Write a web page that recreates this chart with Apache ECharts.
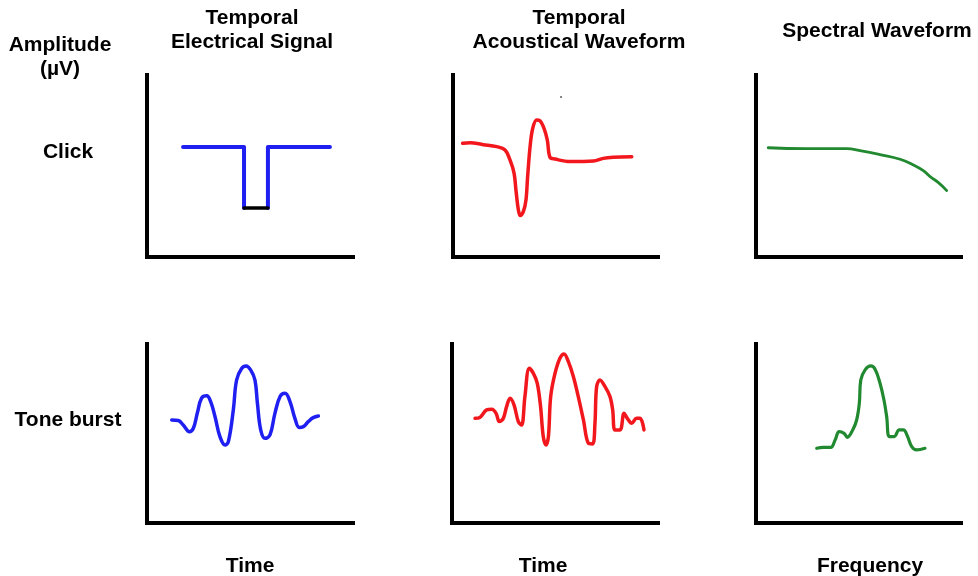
<!DOCTYPE html>
<html>
<head>
<meta charset="utf-8">
<script src="https://cdn.jsdelivr.net/npm/echarts@6/dist/echarts.min.js"></script>
<style>html,body{margin:0;padding:0;background:#fff}#c{width:978px;height:576px}</style>
</head>
<body>
<div id="c"></div>
<script>
// Column titles, row labels, axis labels
const columnTitles = [["Temporal", "Electrical Signal"], ["Temporal", "Acoustical Waveform"], ["Spectral Waveform"]];
const rowLabels = ["Click", "Tone burst"];
const yAxisTitle = ["Amplitude", "(\u00b5V)"];
const xAxisTitles = ["Time", "Time", "Frequency"];

// Click – temporal electrical signal (rectangular pulse)
const clickElecLeft = [[17.5, 61.1], [47.1, 61.1], [47.1, 27.2]];
const clickElecBottom = [[47.1, 27.2], [58.7, 27.2]];
const clickElecRight = [[58.7, 27.2], [58.7, 61.1], [88.8, 61.1]];

// Click – temporal acoustical waveform
const clickAcoustic = [[4.7, 63.2], [8.3, 63.5], [14.8, 62.4], [21.3, 61.3], [25.4, 59.4], [27.8, 53.9], [29.8, 46.5], [30.7, 37.2], [31.9, 26.1], [32.8, 23.0], [34.3, 25.2], [35.6, 31.7], [36.4, 44.6], [37.6, 61.3], [38.9, 71.5], [40.8, 76.1], [42.4, 75.7], [44.4, 71.5], [46.0, 65.0], [47.3, 55.4], [49.8, 54.4], [57.1, 53.0], [68.5, 53.3], [73.3, 54.8], [78.2, 55.4], [87.2, 55.7]];
const strayDot = [[52.7, 88.9]];

// Click – spectral waveform
const clickSpectrum = [[5.9, 60.7], [24.5, 60.2], [43.8, 60.2], [50.2, 59.1], [59.9, 56.9], [69.6, 54.3], [76.0, 51.1], [80.8, 48.0], [84.1, 44.6], [88.1, 41.3], [92.1, 36.9]];

// Tone burst – temporal electrical signal
const toneElec = [[12.0, 57.2], [15.2, 56.9], [17.6, 54.4], [20.6, 50.7], [22.5, 52.6], [24.4, 60.9], [26.5, 69.3], [29.0, 70.6], [30.9, 67.4], [33.0, 59.1], [35.4, 48.0], [37.9, 43.3], [39.5, 45.2], [41.9, 62.8], [43.5, 79.4], [46.0, 85.9], [48.1, 87.2], [50.3, 85.0], [52.4, 79.4], [53.6, 66.5], [55.2, 51.7], [57.3, 47.0], [59.7, 48.9], [62.1, 60.9], [64.6, 70.2], [67.0, 72.0], [69.4, 67.4], [71.8, 58.1], [73.9, 53.1], [75.9, 53.5], [78.3, 56.3], [80.7, 58.5], [83.2, 59.4]];

// Tone burst – temporal acoustical waveform
const toneAcoustic = [[11.2, 58.1], [13.6, 58.7], [16.8, 62.8], [19.3, 63.2], [21.4, 60.9], [23.0, 56.3], [24.9, 58.1], [26.5, 64.6], [28.2, 69.3], [30.1, 65.6], [32.2, 56.3], [33.8, 54.4], [35.4, 70.2], [37.5, 85.9], [39.5, 83.1], [41.4, 77.6], [43.0, 64.6], [44.3, 48.0], [45.6, 43.3], [46.8, 48.0], [47.9, 70.2], [50.0, 83.1], [52.4, 91.5], [54.4, 93.9], [56.5, 89.6], [58.9, 81.3], [61.3, 70.2], [63.8, 57.2], [66.2, 44.3], [68.3, 43.9], [69.4, 55.4], [70.2, 75.7], [71.8, 79.4], [74.3, 75.7], [76.7, 70.2], [78.0, 62.8], [79.1, 51.7], [81.6, 51.7], [83.5, 60.9], [85.1, 58.1], [87.2, 55.4], [89.6, 58.1], [91.3, 58.1], [93.2, 51.7]];

// Tone burst – spectral waveform
const toneSpectrum = [[29.3, 41.5], [32.5, 42.0], [36.1, 42.0], [38.2, 46.1], [40.2, 50.7], [42.5, 49.8], [44.1, 47.6], [46.7, 51.7], [48.6, 57.2], [49.9, 66.5], [50.6, 79.4], [52.7, 85.0], [55.4, 87.2], [57.5, 85.4], [59.9, 77.6], [61.8, 68.3], [63.1, 59.1], [64.4, 48.0], [66.7, 48.0], [69.2, 51.7], [71.2, 51.7], [73.1, 48.3], [75.2, 42.4], [77.6, 40.6], [81.6, 41.5]];

const BLUE = '#1f1ff2', RED = '#f2171c', GREEN = '#218a30';
const FONT = '"Liberation Sans", Arial, sans-serif';

const panels = [
  {left: 147, top: 75, width: 206, height: 182, ymax: 101.1, xmax: 100},
  {left: 453, top: 75, width: 205, height: 182, ymax: 101.1, xmax: 100},
  {left: 756, top: 75, width: 205, height: 182, ymax: 101.1, xmax: 99},
  {left: 147, top: 344, width: 206, height: 179, ymax: 99.4, xmax: 100},
  {left: 452, top: 344, width: 206, height: 179, ymax: 99.4, xmax: 100},
  {left: 756, top: 344, width: 205, height: 179, ymax: 99.4, xmax: 99}
];

const axisLine = {show: true, onZero: false, lineStyle: {color: '#000', width: 4, cap: 'square'}};
const grid = panels.map(p => ({left: p.left, top: p.top, width: p.width, height: p.height}));
const xAxis = panels.map((p, i) => ({type: 'value', gridIndex: i, min: 0, max: p.xmax, axisLine, axisTick: {show: false}, axisLabel: {show: false}, splitLine: {show: false}}));
const yAxis = panels.map((p, i) => ({type: 'value', gridIndex: i, min: 0, max: p.ymax, axisLine, axisTick: {show: false}, axisLabel: {show: false}, splitLine: {show: false}}));

function line(data, idx, color, width, smooth) {
  return {type: 'line', xAxisIndex: idx, yAxisIndex: idx, data, showSymbol: false, symbol: 'none', smooth: smooth, lineStyle: {color, width, cap: 'round', join: 'round'}, silent: true, z: 3};
}

const series = [
  line(clickElecLeft, 0, BLUE, 4, false),
  line(clickElecRight, 0, BLUE, 4, false),
  line(clickElecBottom, 0, '#000', 3.5, false),
  line(clickAcoustic, 1, RED, 3.5, 0.35),
  {type: 'scatter', xAxisIndex: 1, yAxisIndex: 1, data: strayDot, symbolSize: 2, itemStyle: {color: '#333'}, silent: true},
  line(clickSpectrum, 2, GREEN, 2.8, 0.5),
  line(toneElec, 3, BLUE, 3.5, 0.4),
  line(toneAcoustic, 4, RED, 3.5, 0.35),
  line(toneSpectrum, 5, GREEN, 3.2, 0.4)
];

function txt(x, y, s, size) {
  return {type: 'text', x, y, style: {text: s, fill: '#000', font: 'bold ' + (size || 21) + 'px ' + FONT, textAlign: 'center', textVerticalAlign: 'middle'}};
}

const colCenters = [252, 579, 877];
const graphics = [
  txt(colCenters[0], 18, columnTitles[0][0]),
  txt(colCenters[0], 42, columnTitles[0][1]),
  txt(colCenters[1], 18, columnTitles[1][0]),
  txt(colCenters[1], 42, columnTitles[1][1]),
  txt(colCenters[2], 31, columnTitles[2][0]),
  txt(60, 45, yAxisTitle[0]),
  txt(60, 69, yAxisTitle[1]),
  txt(68, 152, rowLabels[0]),
  txt(68, 420, rowLabels[1]),
  txt(250, 566, xAxisTitles[0]),
  txt(543, 566, xAxisTitles[1]),
  txt(870, 566, xAxisTitles[2])
];

const chart = echarts.init(document.getElementById('c'), null, {renderer: 'canvas'});
chart.setOption({backgroundColor: '#fff', animation: false, grid, xAxis, yAxis, series, graphic: graphics});
</script>
</body>
</html>
